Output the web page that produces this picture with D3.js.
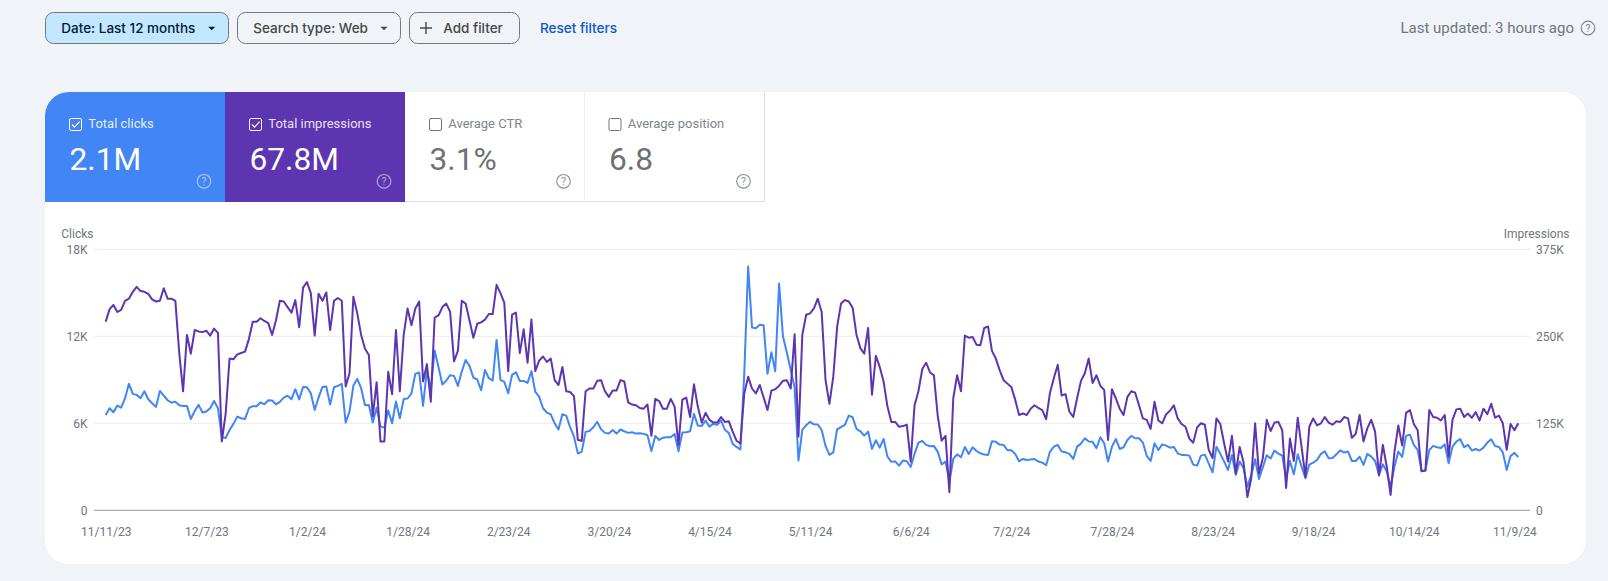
<!DOCTYPE html>
<html>
<head>
<meta charset="utf-8">
<script src="https://cdnjs.cloudflare.com/ajax/libs/d3/7.8.5/d3.min.js"></script>
<style>
html, body { margin: 0; padding: 0; background: #f0f4f9; overflow: hidden; }
text { font-family: Roboto, sans-serif; }
</style>
</head>
<body>
<div id="chart-area"></div>
<script>
/*
*    search performance chart
*/

// one value per day, starting 11/11/23
var clicks = [
6580,7040,6760,7220,7080,7730,8720,8030,7960,7730,
8210,7660,7380,7130,8230,7910,7590,7430,7480,7250,
7200,7200,6300,6850,7270,6740,6810,7040,7540,7040,
5040,4990,5540,5960,6460,6350,6300,7040,7180,7180,
7450,7310,7590,7570,7310,7480,7770,7910,7660,8350,
7640,8510,8490,8070,6920,7770,8510,8530,7290,8490,
8580,8720,6050,6810,8600,9060,8420,7250,7270,6050,
7080,5770,5700,6880,6000,7500,6350,7680,7710,8070,
9410,9500,7200,9680,8300,11020,9870,8670,8950,9320,
9270,8580,9570,10370,9960,9150,9020,8280,9680,9110,
8950,11750,8990,8860,8070,9340,9520,8920,8920,8790,
9590,8170,7840,7040,6740,6620,6000,5570,6620,6530,
5730,5080,3910,4050,5410,5470,5730,6100,5590,5340,
5290,5540,5290,5570,5450,5340,5380,5290,5310,5270,
5180,4090,5130,4850,5010,5040,5040,5270,4070,5360,
5380,5450,6650,5840,5820,6190,5770,5960,5890,6190,
5540,5340,4580,4370,4190,9450,16810,12600,12560,12790,
12770,9410,10900,9590,15640,11980,10880,9680,8490,3430,
5540,5870,6100,5930,5910,5540,4440,3820,4000,5590,
5730,5890,6530,6420,5610,5450,5150,5430,4230,4830,
4320,4920,3700,3340,3380,3080,3430,3380,2990,3890,
4670,4780,4510,4420,4440,4030,3170,3360,1980,3540,
3860,3660,4370,3890,4350,4090,3930,3840,3820,4760,
4720,4530,4510,4140,4140,3890,3380,3540,3470,3500,
3540,3360,3290,3110,4050,4390,4510,4050,4000,3890,
3540,4390,4600,4970,4740,4720,4280,5040,4620,3360,
4390,4920,4230,4350,4850,5130,4970,4970,4670,3750,
3400,4620,4160,4550,4460,4320,4370,3930,3820,3820,
3770,3150,3080,3770,3840,3240,2620,4390,3890,3360,
2780,3820,2440,3360,2900,1630,2440,3520,2160,2970,
3800,3570,4120,3910,3770,2210,3400,2480,3860,3010,
2210,3150,3290,3470,3890,4070,3590,3610,3860,4140,
3980,4050,3400,3400,3700,3130,3890,3700,3400,2440,
3170,2670,1630,3010,4050,3680,5130,5220,4510,4160,
2710,2740,4160,4440,4350,4300,4550,3240,4390,4740,
4920,4350,4510,4120,4230,4120,4320,4670,4900,4440,
4370,4000,2780,3750,3960,3680
];

// thousands, same days
var impressions = [
271,289,295,285,288,301,304,314,321,315,
314,311,303,300,301,319,304,304,301,226,
171,252,225,259,257,256,258,251,261,255,
99,139,218,217,224,226,228,246,271,271,
276,272,269,252,273,301,300,292,284,302,
263,320,328,312,251,311,301,313,259,301,
305,301,178,197,307,283,252,232,223,135,
184,99,99,199,167,259,171,252,290,266,
290,300,185,210,156,277,280,292,297,285,
214,229,301,297,273,248,268,270,274,282,
282,324,312,298,200,281,284,226,260,212,
274,200,215,221,213,218,187,180,206,171,
170,164,101,100,171,175,175,186,187,171,
163,172,172,187,185,155,152,151,147,146,
152,107,160,157,146,146,160,149,94,159,
162,134,181,149,126,140,130,126,126,134,
127,128,113,100,96,168,192,175,168,180,
162,144,172,174,179,186,187,175,253,106,
252,281,283,290,304,285,187,153,192,264,
297,302,300,291,252,233,225,262,166,222,
206,185,149,127,127,120,121,123,70,151,
171,203,212,198,194,135,100,107,26,161,
194,171,251,248,249,238,237,262,264,229,
218,201,187,182,177,159,137,139,137,146,
151,147,144,131,169,190,209,165,167,142,
134,161,186,197,218,183,194,179,173,101,
174,161,146,137,163,171,169,151,132,130,
117,156,129,125,138,143,151,132,124,120,
103,97,119,125,123,87,75,132,124,96,
70,107,53,91,69,19,46,125,53,75,
130,114,126,127,115,32,103,71,133,91,
48,120,132,122,125,134,126,123,128,127,
134,132,104,110,137,99,118,130,113,50,
94,63,22,84,122,93,140,144,124,115,
56,57,144,134,133,129,137,77,130,145,
146,134,139,133,141,129,146,138,153,133,
136,125,87,124,115,125
];

var clickTicks = [0, 6000, 12000, 18000];
var clickTickLabels = ["0", "6K", "12K", "18K"];
var impressionTicks = [0, 125, 250, 375];
var impressionTickLabels = ["0", "125K", "250K", "375K"];
var dateTickLabels = ["11/11/23", "12/7/23", "1/2/24", "1/28/24", "2/23/24", "3/20/24", "4/15/24",
    "5/11/24", "6/6/24", "7/2/24", "7/28/24", "8/23/24", "9/18/24", "10/14/24", "11/9/24"];

var tileNames = ["Total clicks", "Total impressions", "Average CTR", "Average position"];
var tileValues = ["2.1M", "67.8M", "3.1%", "6.8"];
var chipNames = ["Date: Last 12 months", "Search type: Web", "Add filter"];

var startDay = new Date(Date.UTC(2023, 10, 11));
var days = clicks.map((d, i)=>{return d3.utcDay.offset(startDay, i)});
var tickDays = dateTickLabels.map((d, i)=>{return d3.utcDay.offset(startDay, i * 26)});

var svg = d3.select("#chart-area").append("svg")
    .attr("width", 1608)
    .attr("height", 581)
    .style("display", "block");

/* card */
svg.append("clipPath").attr("id", "card-clip")
    .append("rect")
    .attr("x", 45).attr("y", 92)
    .attr("width", 1541).attr("height", 472)
    .attr("rx", 24);

svg.append("rect")
    .attr("x", 45).attr("y", 92)
    .attr("width", 1541).attr("height", 472)
    .attr("rx", 24)
    .attr("fill", "#ffffff");

/* filter chips */
var chipBoxes = [
    {x: 45.5, w: 183, fill: "#c2e7ff", color: "#001d35", tx: 61.3, caret: 211.7},
    {x: 237.5, w: 163, fill: "none", color: "#444746", tx: 253.3, caret: 384},
    {x: 409.5, w: 110, fill: "none", color: "#444746", tx: 443.3, caret: null}
];

var chips = svg.selectAll("g.chip")
    .data(chipBoxes)
    .enter()
    .append("g")
    .attr("class", "chip");

chips.append("rect")
    .attr("x", (d)=>{return d.x})
    .attr("y", 12.5)
    .attr("width", (d)=>{return d.w})
    .attr("height", 31)
    .attr("rx", 8)
    .attr("fill", (d)=>{return d.fill})
    .attr("stroke", "#747775");

chips.append("text")
    .attr("x", (d)=>{return d.tx})
    .attr("y", 33)
    .attr("fill", (d)=>{return d.color})
    .style("font-family", "Inter, sans-serif")
    .style("font-size", "13.5px")
    .style("font-weight", 500)
    .text((d, i)=>{return chipNames[i]});

chips.filter((d)=>{return d.caret})
    .append("path")
    .attr("d", (d)=>{return "M" + (d.caret - 3.5) + " 26.8h7l-3.5 3.5z"})
    .attr("fill", (d)=>{return d.color});

svg.append("path")
    .attr("d", "M420 28h12M426 22v12")
    .attr("stroke", "#444746")
    .attr("stroke-width", 1.4);

svg.append("text")
    .attr("x", 540)
    .attr("y", 33)
    .attr("fill", "#0b57d0")
    .style("font-family", "Inter, sans-serif")
    .style("font-size", "13.5px")
    .style("font-weight", 500)
    .text("Reset filters");

svg.append("text")
    .attr("x", 1574)
    .attr("y", 33)
    .attr("text-anchor", "end")
    .attr("fill", "#70757a")
    .style("font-size", "15px")
    .text("Last updated: 3 hours ago");

function helpIcon(g, cx, cy, color, opacity) {
    g.append("circle")
        .attr("cx", cx).attr("cy", cy).attr("r", 6.8)
        .attr("fill", "none")
        .attr("stroke", color)
        .attr("stroke-width", 1.2)
        .attr("opacity", opacity);
    g.append("text")
        .attr("x", cx).attr("y", cy + 3.8)
        .attr("text-anchor", "middle")
        .attr("fill", color)
        .attr("opacity", opacity)
        .style("font-size", "10.5px")
        .text("?");
}

helpIcon(svg, 1588, 28, "#80868b", 1);

/* tiles */
var tileBoxes = [
    {x: 45, w: 180, fill: "#4285f4", color: "#ffffff", label: "#ffffff", help: "#ffffff", op: 0.55},
    {x: 225, w: 180, fill: "#5e35b1", color: "#ffffff", label: "#ffffff", help: "#ffffff", op: 0.55},
    {x: 405, w: 179.5, fill: "#ffffff", color: "#6f7073", label: "#80868b", help: "#80868b", op: 0.9},
    {x: 584.5, w: 180, fill: "#ffffff", color: "#6f7073", label: "#80868b", help: "#80868b", op: 0.9}
];

var tileLayer = svg.append("g").attr("clip-path", "url(#card-clip)");

var tiles = tileLayer.selectAll("g.tile")
    .data(tileBoxes)
    .enter()
    .append("g")
    .attr("class", "tile");

tiles.append("rect")
    .attr("x", (d)=>{return d.x})
    .attr("y", 92)
    .attr("width", (d)=>{return d.w})
    .attr("height", 110)
    .attr("fill", (d)=>{return d.fill});

tiles.filter((d, i)=>{return i > 1})
    .append("path")
    .attr("d", (d)=>{return "M" + (d.x + d.w) + " 92v109.5H" + d.x})
    .attr("fill", "none")
    .attr("stroke", "#dadce0");

tiles.append("rect")
    .attr("x", (d)=>{return d.x + 24.5})
    .attr("y", 118.5)
    .attr("width", 12)
    .attr("height", 12)
    .attr("rx", 1.5)
    .attr("fill", "none")
    .attr("stroke", (d)=>{return d.help === "#ffffff" ? "#ffffff" : "#70757a"});

tiles.filter((d, i)=>{return i < 2})
    .append("path")
    .attr("d", (d)=>{return "M" + (d.x + 27) + " 124.5l2.6 2.6l5-5.4"})
    .attr("fill", "none")
    .attr("stroke", "#ffffff")
    .attr("stroke-width", 1.1);

tiles.append("text")
    .attr("x", (d)=>{return d.x + 43.3})
    .attr("y", 128.2)
    .attr("fill", (d)=>{return d.label})
    .attr("fill-opacity", (d)=>{return d.help === "#ffffff" ? 0.88 : 1})
    .style("font-size", "13px")
    .text((d, i)=>{return tileNames[i]});

tiles.append("text")
    .attr("x", (d)=>{return d.x + 24.5})
    .attr("y", 170.3)
    .attr("fill", (d)=>{return d.color})
    .style("font-size", "31.7px")
    .text((d, i)=>{return tileValues[i]});

tiles.each(function(d) {
    helpIcon(d3.select(this), d.x + d.w - 21, 181.3, d.help, d.op);
});

/* scales */
var x = d3.scaleUtc()
    .domain([days[0], days[days.length - 1]])
    .range([105.7, 1518.3]);

var yClicks = d3.scaleLinear()
    .domain([0, 18000])
    .range([510.3, 249.3]);

var yImpressions = d3.scaleLinear()
    .domain([0, 375])
    .range([510.3, 249.3]);

/* grid */
svg.selectAll("line.grid")
    .data(clickTicks)
    .enter()
    .append("line")
    .attr("class", "grid")
    .attr("x1", 94)
    .attr("x2", 1530)
    .attr("y1", (d)=>{return yClicks(d)})
    .attr("y2", (d)=>{return yClicks(d)})
    .attr("stroke", (d)=>{return d === 0 ? "#9a9a9a" : "#ebebeb"});

/* axes */
function cleanAxis(g) {
    g.select(".domain").remove();
    g.selectAll("line").remove();
    g.selectAll("text")
        .attr("fill", "#70757a")
        .style("font-family", "Roboto, sans-serif")
        .style("font-size", "12px");
}

svg.append("g")
    .attr("transform", "translate(87.5,0.8)")
    .call(d3.axisLeft(yClicks)
        .tickValues(clickTicks)
        .tickSize(0)
        .tickPadding(0)
        .tickFormat((d, i)=>{return clickTickLabels[i]}))
    .call(cleanAxis);

svg.append("g")
    .attr("transform", "translate(1536,0.8)")
    .call(d3.axisRight(yImpressions)
        .tickValues(impressionTicks)
        .tickSize(0)
        .tickPadding(0)
        .tickFormat((d, i)=>{return impressionTickLabels[i]}))
    .call(cleanAxis);

svg.append("g")
    .attr("transform", "translate(0,527.5)")
    .call(d3.axisBottom(x)
        .tickValues(tickDays)
        .tickSize(0)
        .tickPadding(0)
        .tickFormat((d, i)=>{return dateTickLabels[i]}))
    .call(cleanAxis);

svg.append("text")
    .attr("x", 61.3)
    .attr("y", 238)
    .attr("fill", "#70757a")
    .style("font-size", "12px")
    .text("Clicks");

svg.append("text")
    .attr("x", 1569.5)
    .attr("y", 238)
    .attr("text-anchor", "end")
    .attr("fill", "#70757a")
    .style("font-size", "12px")
    .text("Impressions");

/* lines */
var clicksLine = d3.line()
    .x((d, i)=>{return x(days[i])})
    .y((d)=>{return yClicks(d)});

var impressionsLine = d3.line()
    .x((d, i)=>{return x(days[i])})
    .y((d)=>{return yImpressions(d)});

svg.append("path")
    .datum(clicks)
    .attr("d", clicksLine)
    .attr("fill", "none")
    .attr("stroke", "#4285f4")
    .attr("stroke-width", 2)
    .attr("stroke-linejoin", "round");

svg.append("path")
    .datum(impressions)
    .attr("d", impressionsLine)
    .attr("fill", "none")
    .attr("stroke", "#5e35b1")
    .attr("stroke-width", 2)
    .attr("stroke-linejoin", "round");
</script>
</body>
</html>
